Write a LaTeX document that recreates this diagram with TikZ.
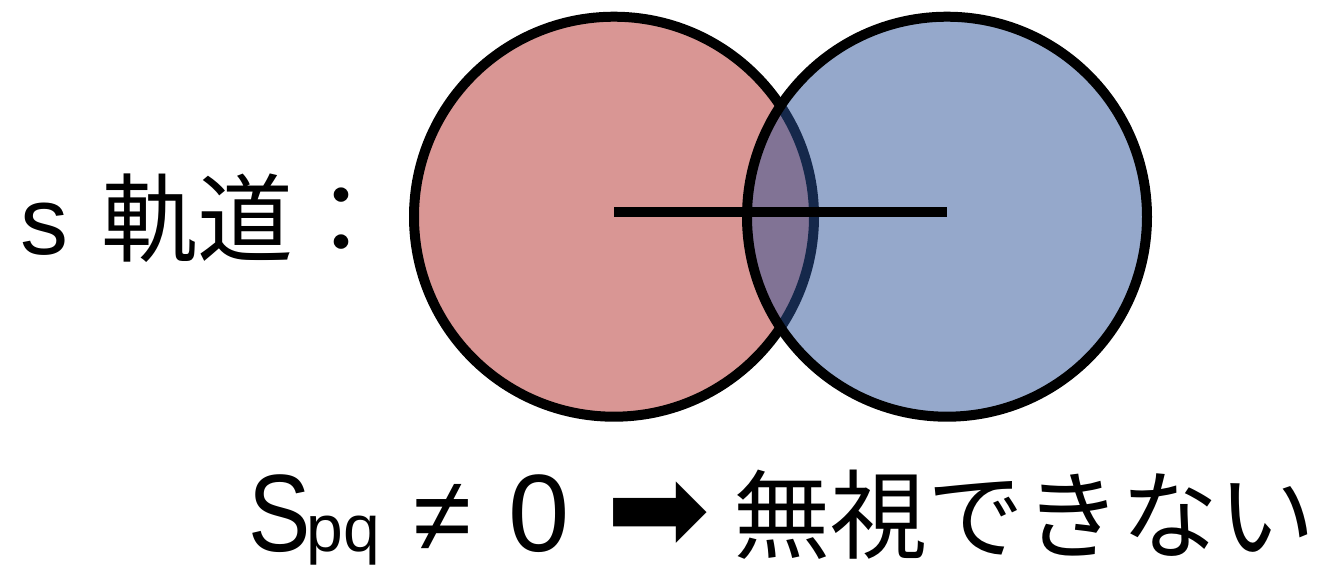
\documentclass[tikz,border=0pt]{standalone}
\usepackage{fontspec}
\setmainfont{Liberation Sans}
\newfontfamily\jpfont{Noto Sans CJK JP}
\newfontfamily\symfont{DejaVu Sans}
\usetikzlibrary{positioning}
\definecolor{ink}{RGB}{0,0,0}
\definecolor{orbred}{RGB}{217,150,148}
\definecolor{orbblue}{RGB}{43,81,151}
\tikzset{
  orbR/.style={circle,draw=ink,line width=5pt,fill=orbred,minimum size=200pt,inner sep=0pt},
  orbB/.style={circle,draw=ink,line width=5pt,fill=orbblue,fill opacity=0.5,minimum size=200pt,inner sep=0pt},
  bond/.style={draw=ink,line width=5pt},
  lbl/.style={anchor=base west,inner sep=0pt,font=\fontsize{48pt}{56pt}\selectfont},
}
\newcommand{\cell}[2]{\makebox[#1][l]{#2}}

\begin{document}
\begin{tikzpicture}[x=0.5pt,y=-0.5pt]
% two s orbitals overlapping: S_pq is not zero
\useasboundingbox (0,0) rectangle (1334,564);
\node[orbR] (p) at (614,216.7) {};
\node[orbB] (q) at (947,216.7) {};
\coordinate (pc) at (614,212);
\coordinate (qc) at (947,212);
\draw[bond] (pc) -- (qc);
\node[lbl] (orb) at (20,254) {\cell{40.5pt}{s}{\jpfont 軌道：}};
\node[lbl] (cond) at (248,551)
  {\cell{29pt}{\fontsize{55pt}{60pt}\selectfont\scalebox{0.85}[1]{S}}%
   \cell{53.5pt}{\fontsize{33pt}{36pt}\selectfont pq}%
   \cell{47.5pt}{\fontsize{53pt}{60pt}\selectfont ≠}%
   \cell{49pt}{\fontsize{55pt}{60pt}\selectfont 0}%
   \cell{63.5pt}{\fontsize{62pt}{70pt}\symfont ➡}%
   {\fontsize{48.5pt}{56pt}\jpfont 無視できない}};
\end{tikzpicture}
\end{document}
